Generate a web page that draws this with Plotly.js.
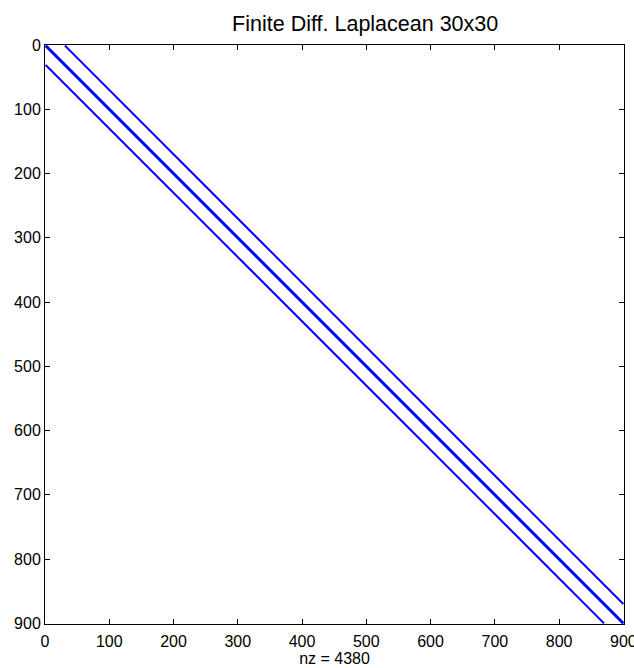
<!DOCTYPE html>
<html>
<head>
<meta charset="utf-8">
<script src="https://cdn.plot.ly/plotly-3.0.1.min.js"></script>
<style>html,body{margin:0;padding:0;background:#fff;}#plot{width:634px;height:668px;}</style>
</head>
<body>
<div id="plot"></div>
<script>
// Nonzero diagonals of the 900x900 five-point Laplacian (30x30 grid)
const diagOffsets = [-30, -1, 0, 1, 30];
const diagColStart = [1, 1, 1, 2, 31];
const diagColEnd = [870, 899, 900, 900, 900];
const diagRowStart = [31, 2, 1, 1, 1];
const diagRowEnd = [900, 900, 900, 899, 870];
const tickVals = [0, 100, 200, 300, 400, 500, 600, 700, 800, 900];
const nnz = 4380;

const FONT = 'Liberation Sans, Arial, Helvetica, sans-serif';

const traces = diagOffsets.map((d, i) => ({
  type: 'scatter', mode: 'lines',
  x: [diagColStart[i], diagColEnd[i]],
  y: [diagRowStart[i], diagRowEnd[i]],
  line: {color: '#0000ff', width: 2},
  hoverinfo: 'skip', showlegend: false
}));

const axisCommon = {
  showgrid: false, zeroline: false,
  showline: true, linecolor: '#000', linewidth: 1, mirror: 'ticks',
  ticks: 'inside', ticklen: 5, tickcolor: '#000', tickwidth: 1,
  tickvals: tickVals, ticktext: tickVals.map(String),
  ticklabeloverflow: 'allow',
  tickfont: {family: FONT, size: 16, color: '#000'}
};

const layout = {
  width: 634, height: 668,
  margin: {l: 45, r: 10, t: 45, b: 44},
  paper_bgcolor: '#fff', plot_bgcolor: '#fff',
  title: {text: 'Finite Diff. Laplacean 30x30', x: 0.576, xanchor: 'center', y: 0.965, yanchor: 'middle',
          font: {family: FONT, size: 21.5, color: '#000'}},
  xaxis: Object.assign({}, axisCommon, {range: [0, 901], ticklabelstandoff: 3,
          title: {text: 'nz = ' + nnz, standoff: 0, font: {family: FONT, size: 16, color: '#000'}}}),
  yaxis: Object.assign({}, axisCommon, {range: [901, 0]})
};

Plotly.newPlot('plot', traces, layout, {displayModeBar: false, staticPlot: true});
</script>
</body>
</html>
